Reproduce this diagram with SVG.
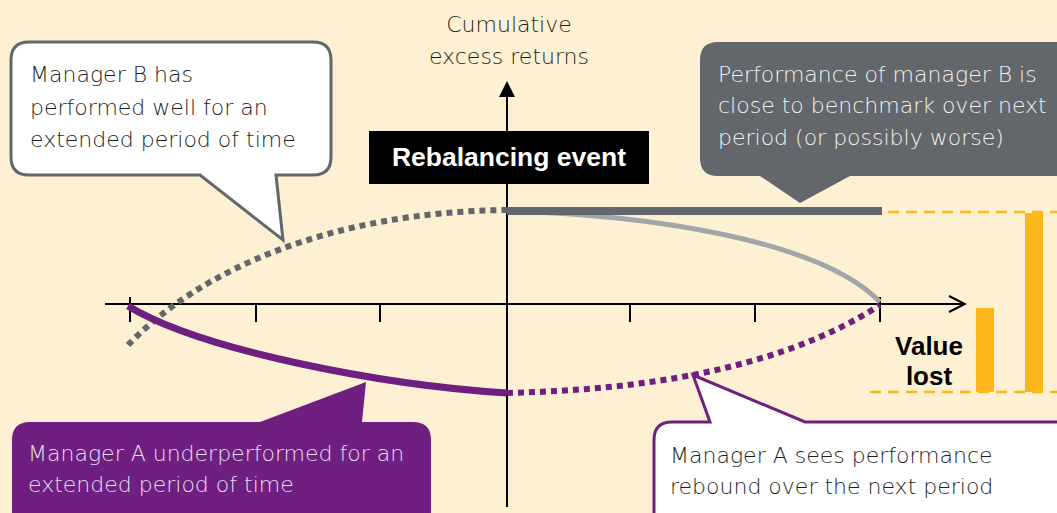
<svg xmlns="http://www.w3.org/2000/svg" width="1057" height="513" viewBox="0 0 1057 513">
<defs>
<style>
.t{font-family:"DejaVu Sans","Liberation Sans",sans-serif;font-size:22px;font-weight:200;}
.dark{fill:#1e1e1e;}
.lt{fill:#f2f2f2;}
.pl{fill:#eadff0;}
.b{font-family:"Liberation Sans",Arial,sans-serif;font-weight:bold;}
.ax{stroke:#000;stroke-width:2;fill:none;}
.dash{stroke:#FDB71A;stroke-width:2.5;stroke-dasharray:11 7;fill:none;}
</style>
<marker id="open" viewBox="0 0 20 20" refX="18" refY="10" markerWidth="20" markerHeight="20" markerUnits="userSpaceOnUse" orient="auto">
<path d="M2,2 L18,10 L2,18" fill="none" stroke="#000" stroke-width="2"/>
</marker>
<marker id="fill" viewBox="0 0 16 16" refX="14" refY="8" markerWidth="16" markerHeight="16" markerUnits="userSpaceOnUse" orient="auto">
<path d="M0,0 L16,8 L0,16 Z" fill="#000"/>
</marker>
</defs>
<rect width="1057" height="513" fill="#FEF0D3"/>

<g id="connectors">
<line class="ax" x1="105" y1="304" x2="965" y2="304" marker-end="url(#open)"/>
<line class="ax" x1="507" y1="507" x2="507" y2="83" marker-end="url(#fill)"/>
<g class="ax">
<line x1="130" y1="297" x2="130" y2="322"/>
<line x1="256" y1="304" x2="256" y2="322"/>
<line x1="380" y1="304" x2="380" y2="322"/>
<line x1="630" y1="304" x2="630" y2="322"/>
<line x1="755" y1="304" x2="755" y2="322"/>
<line x1="880" y1="297" x2="880" y2="322"/>
</g>
<path d="M128,345 C 200,270 330,212 507,210" fill="none" stroke="#63666A" stroke-width="6" stroke-dasharray="6 5"/>
<path d="M507,211 C 650,215 820,240 880,302" fill="none" stroke="#A2A5AA" stroke-width="5"/>
<line x1="507" y1="211" x2="882" y2="211" stroke="#63666A" stroke-width="8"/>
<path d="M128,306 C 200,350 380,385 507,393" fill="none" stroke="#6E1F80" stroke-width="7"/>
<path d="M507,393 C 640,390 780,370 880,305" fill="none" stroke="#6E1F80" stroke-width="6" stroke-dasharray="6 5"/>
<line class="dash" x1="888" y1="212" x2="1057" y2="212"/>
<line class="dash" x1="870" y1="392" x2="1057" y2="392"/>
</g>

<g id="bars">
<rect x="976" y="308" width="18" height="84" fill="#FDB71A"/>
<rect x="1025" y="213" width="18" height="179" fill="#FDB71A"/>
</g>

<g id="axis-label">
<text class="t dark" x="509" y="32" text-anchor="middle">Cumulative</text>
<text class="t dark" x="509" y="64" text-anchor="middle">excess returns</text>
</g>

<g id="rebalancing">
<rect x="369" y="131" width="280" height="53" fill="#000"/>
<text class="b" x="509" y="166" font-size="26.5" fill="#fff" text-anchor="middle">Rebalancing event</text>
</g>

<g id="value-lost">
<text class="b" x="929" y="355" font-size="26" fill="#000" text-anchor="middle">Value</text>
<text class="b" x="929" y="385" font-size="26" fill="#000" text-anchor="middle">lost</text>
</g>

<g id="callout-b-past">
<path d="M29,42 H313 Q331,42 331,60 V157 Q331,175 313,175 H276 L283,240 L200,175 H29 Q11,175 11,157 V60 Q11,42 29,42 Z" fill="#fff" stroke="#63666A" stroke-width="3" stroke-linejoin="miter"/>
<text class="t dark" x="30" y="82">Manager B has</text>
<text class="t dark" x="30" y="115">performed well for an</text>
<text class="t dark" x="30" y="147">extended period of time</text>
</g>

<g id="callout-b-next">
<path d="M718,42 H1070 V176 H850 L800,203 L760,176 H718 Q700,176 700,158 V60 Q700,42 718,42 Z" fill="#63666A"/>
<text class="t lt" x="718" y="82">Performance of manager B is</text>
<text class="t lt" x="718" y="113">close to benchmark over next</text>
<text class="t lt" x="718" y="145">period (or possibly worse)</text>
</g>

<g id="callout-a-past">
<path d="M30,422 H260 L366,382 L362,422 H413 Q431,422 431,440 V530 H12 V440 Q12,422 30,422 Z" fill="#6E1F80"/>
<text class="t pl" x="28" y="461">Manager A underperformed for an</text>
<text class="t pl" x="28" y="492">extended period of time</text>
</g>

<g id="callout-a-next">
<path d="M672,422 H710 L693,375 L805,422 H1070 V530 H654 V440 Q654,422 672,422 Z" fill="#fff" stroke="#6E1F80" stroke-width="3"/>
<text class="t dark" x="670" y="463">Manager A sees performance</text>
<text class="t dark" x="670" y="494">rebound over the next period</text>
</g>
</svg>
